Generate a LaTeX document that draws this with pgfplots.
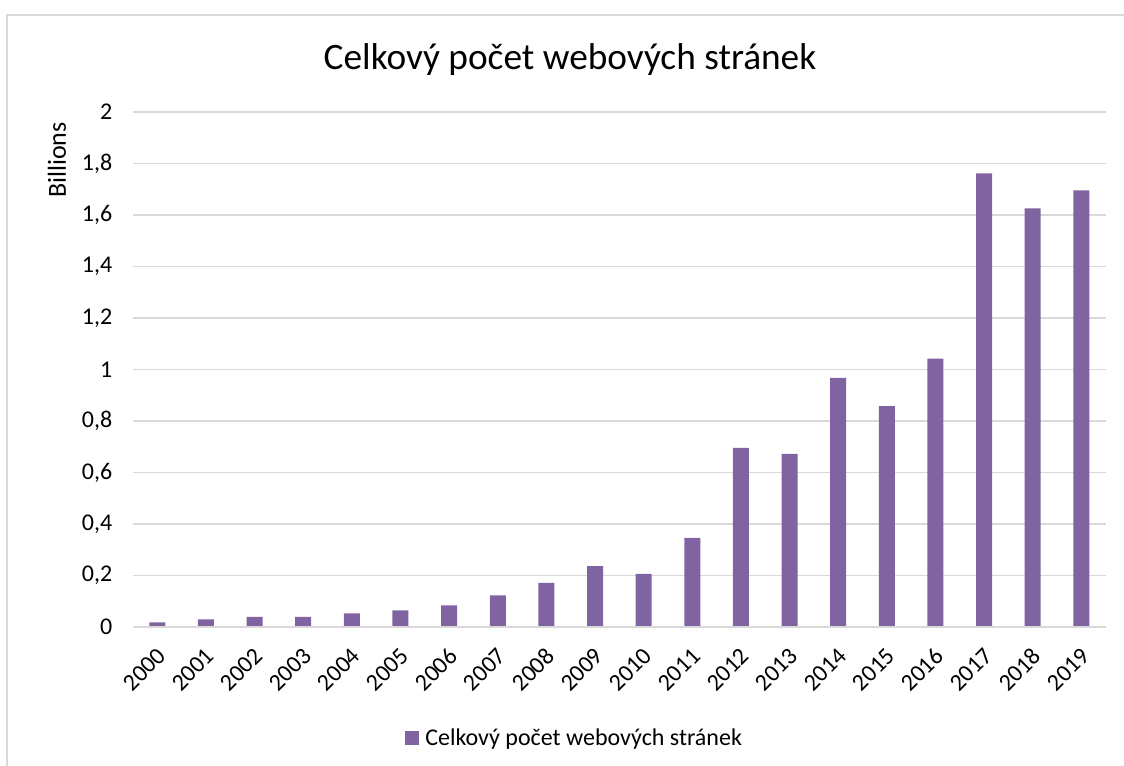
\documentclass[border=0pt]{standalone}
\usepackage{pgfplots}
\pgfplotsset{compat=1.18}
\usepackage{fontspec}
\setmainfont{Carlito}
\definecolor{barcol}{HTML}{8064A2}
\definecolor{gridcol}{HTML}{D9D9D9}
\pgfplotstableread{
x val
0 0.018
1 0.030
2 0.039
3 0.039
4 0.053
5 0.065
6 0.084
7 0.123
8 0.171
9 0.236
10 0.206
11 0.346
12 0.696
13 0.672
14 0.967
15 0.858
16 1.042
17 1.762
18 1.626
19 1.696
}\datatable
\begin{document}
\begin{tikzpicture}
\useasboundingbox (0pt,0pt) rectangle (843pt,574.5pt);
\draw[gridcol, line width=1.5pt] (5.25pt,0pt) -- (5.25pt,563.6pt) -- (843pt,563.6pt);
\node[font=\fontsize{28}{32}\selectfont] at (427.5pt,529.5pt) {Celkový počet webových stránek};
\node[rotate=90, font=\fontsize{19.5}{22}\selectfont] at (42.75pt,454.5pt) {Billions};
\begin{axis}[
  at={(99.75pt,104.25pt)}, anchor=south west,
  scale only axis,
  width=729.5pt, height=386.25pt,
  xmin=-0.5, xmax=19.5,
  ymin=0, ymax=2,
  ytick={0,0.2,...,2.01},
  xtick=data,
  xticklabels={2000,2001,2002,2003,2004,2005,2006,2007,2008,2009,2010,2011,2012,2013,2014,2015,2016,2017,2018,2019},
  axis line style={draw=none},
  major tick length=0,
  ymajorgrids, grid style={gridcol, line width=1pt},
  tick label style={font=\fontsize{18}{20}\selectfont, black},
  /pgf/number format/assume math mode=true,
  /pgf/number format/use comma,
  yticklabel style={/pgf/number format/fixed, /pgf/number format/precision=1, anchor=east, xshift=-12pt},
  xticklabel style={rotate=45, anchor=east, inner sep=0pt, xshift=-11pt, yshift=-15.5pt},
  legend style={at={(0.454,-0.2155)}, anchor=center, draw=none, font=\fontsize{18}{20}\selectfont, inner sep=0pt},
  legend image code/.code={\fill[barcol] (0pt,-5pt) rectangle (10.5pt,5.5pt);},
  legend cell align=left,
]
\addplot[ybar, bar width=12pt, fill=barcol, draw=none] table[x=x, y=val] {\datatable};
\addlegendentry{\hspace{3pt}Celkový počet webových stránek}
\draw[gridcol, line width=1.5pt] (axis cs:-0.5,0) -- (axis cs:19.5,0);
\end{axis}
\end{tikzpicture}
\end{document}
